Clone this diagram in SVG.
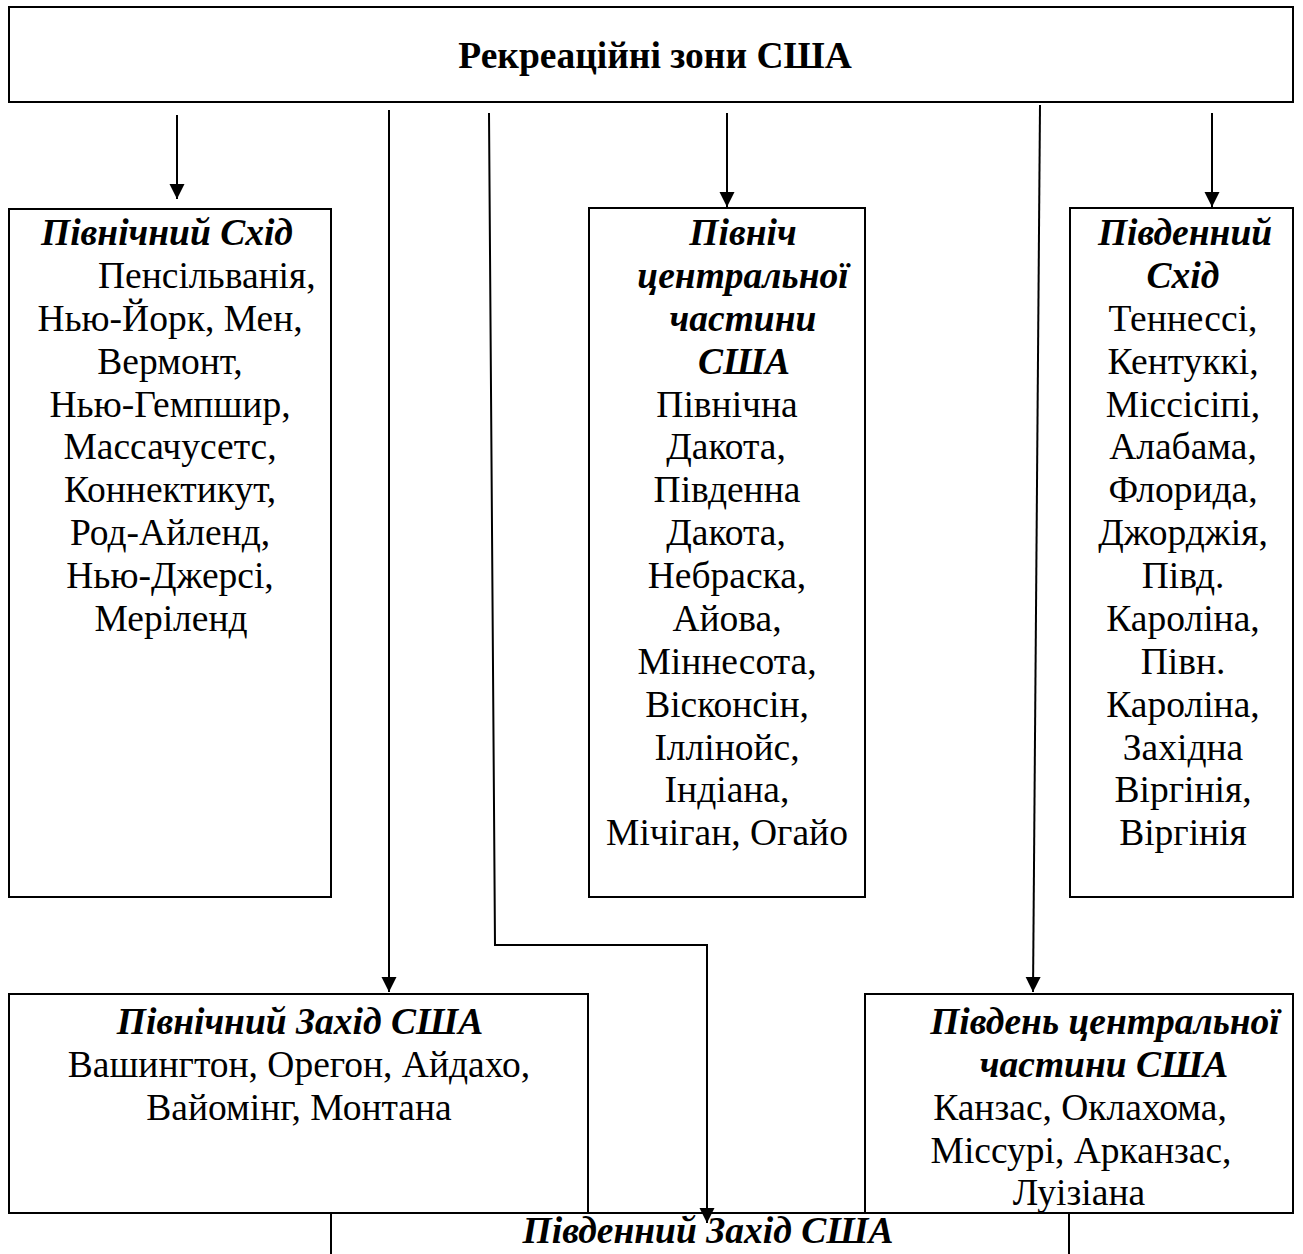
<svg xmlns="http://www.w3.org/2000/svg" width="1303" height="1254" viewBox="0 0 1303 1254">
<style>
.box{fill:none;stroke:#000;stroke-width:2}
.t{font-family:"Liberation Serif","Times New Roman",serif;font-size:37.5px;fill:#000}
.h{font-weight:bold;font-style:italic}
.c{text-anchor:middle}
.ln{fill:none;stroke:#000;stroke-width:2}
</style>
<defs>
<marker id="ah" markerUnits="userSpaceOnUse" markerWidth="16" markerHeight="16" viewBox="0 0 16 16" refX="15" refY="8" orient="auto">
<path d="M0,0.5 L15,8 L0,15.5 z" fill="#000"/>
</marker>
</defs>
<rect width="1303" height="1254" fill="#fff"/>
<g id="top">
<rect class="box" x="9" y="7" width="1284" height="95" stroke-width="2.5"/>
<text class="t c" x="655" y="68" font-weight="bold" font-size="40">Рекреаційні зони США</text>
</g>
<g id="ne">
<rect class="box" x="9" y="209" width="322" height="688"/>
<text class="t c h" x="167" y="245">Північний Схід</text>
<text class="t" x="98" y="288">Пенсільванія,</text>
<text class="t c" x="170" y="331">Нью-Йорк, Мен,</text>
<text class="t c" x="170" y="374">Вермонт,</text>
<text class="t c" x="170" y="417">Нью-Гемпшир,</text>
<text class="t c" x="170" y="459">Массачусетс,</text>
<text class="t c" x="170" y="502">Коннектикут,</text>
<text class="t c" x="170" y="545">Род-Айленд,</text>
<text class="t c" x="170" y="588">Нью-Джерсі,</text>
<text class="t c" x="171" y="631">Меріленд</text>
</g>
<g id="nc">
<rect class="box" x="589" y="208" width="276" height="689"/>
<text class="t c h" x="743" y="245">Північ</text>
<text class="t c h" x="743" y="288">центральної</text>
<text class="t c h" x="743" y="331">частини</text>
<text class="t c h" x="744" y="374">США</text>
<text class="t c" x="727" y="417">Північна</text>
<text class="t c" x="726" y="459">Дакота,</text>
<text class="t c" x="727" y="502">Південна</text>
<text class="t c" x="726" y="545">Дакота,</text>
<text class="t c" x="727" y="588">Небраска,</text>
<text class="t c" x="727" y="631">Айова,</text>
<text class="t c" x="727" y="674">Міннесота,</text>
<text class="t c" x="727" y="717">Вісконсін,</text>
<text class="t c" x="727" y="760">Іллінойс,</text>
<text class="t c" x="727" y="802">Індіана,</text>
<text class="t c" x="727" y="845">Мічіган, Огайо</text>
</g>
<g id="se">
<rect class="box" x="1070" y="208" width="223" height="689"/>
<text class="t c h" x="1185" y="245">Південний</text>
<text class="t c h" x="1183" y="288">Схід</text>
<text class="t c" x="1183" y="331">Теннессі,</text>
<text class="t c" x="1183" y="374">Кентуккі,</text>
<text class="t c" x="1183" y="417">Міссісіпі,</text>
<text class="t c" x="1183" y="459">Алабама,</text>
<text class="t c" x="1183" y="502">Флорида,</text>
<text class="t c" x="1183" y="545">Джорджія,</text>
<text class="t c" x="1183" y="588">Півд.</text>
<text class="t c" x="1183" y="631">Кароліна,</text>
<text class="t c" x="1183" y="674">Півн.</text>
<text class="t c" x="1183" y="717">Кароліна,</text>
<text class="t c" x="1183" y="760">Західна</text>
<text class="t c" x="1183" y="802">Віргінія,</text>
<text class="t c" x="1183" y="845">Віргінія</text>
</g>
<g id="nw">
<rect class="box" x="9" y="994" width="579" height="219"/>
<text class="t c h" x="300" y="1034">Північний Захід США</text>
<text class="t c" x="299" y="1077">Вашингтон, Орегон, Айдахо,</text>
<text class="t c" x="299" y="1120">Вайомінг, Монтана</text>
</g>
<g id="sc">
<rect class="box" x="865" y="994" width="428" height="219"/>
<text class="t c h" x="1105" y="1034">Південь центральної</text>
<text class="t c h" x="1104" y="1077">частини США</text>
<text class="t c" x="1080" y="1120">Канзас, Оклахома,</text>
<text class="t c" x="1081" y="1163">Міссурі, Арканзас,</text>
<text class="t c" x="1079" y="1205">Луізіана</text>
</g>
<g id="sw">
<path class="box" d="M331,1260 V1213 H1069 V1260"/>
<text class="t c h" x="708" y="1243">Південний Захід США</text>
</g>
<g id="connectors">
<line class="ln" x1="177" y1="115" x2="177" y2="199" marker-end="url(#ah)"/>
<line class="ln" x1="389" y1="110" x2="389" y2="992" marker-end="url(#ah)"/>
<polyline class="ln" points="489,113 495,945 707,945 707,1223" marker-end="url(#ah)"/>
<line class="ln" x1="727" y1="113" x2="727" y2="207" marker-end="url(#ah)"/>
<line class="ln" x1="1040" y1="105" x2="1033" y2="992" marker-end="url(#ah)"/>
<line class="ln" x1="1212" y1="113" x2="1212" y2="207" marker-end="url(#ah)"/>
</g>
</svg>
